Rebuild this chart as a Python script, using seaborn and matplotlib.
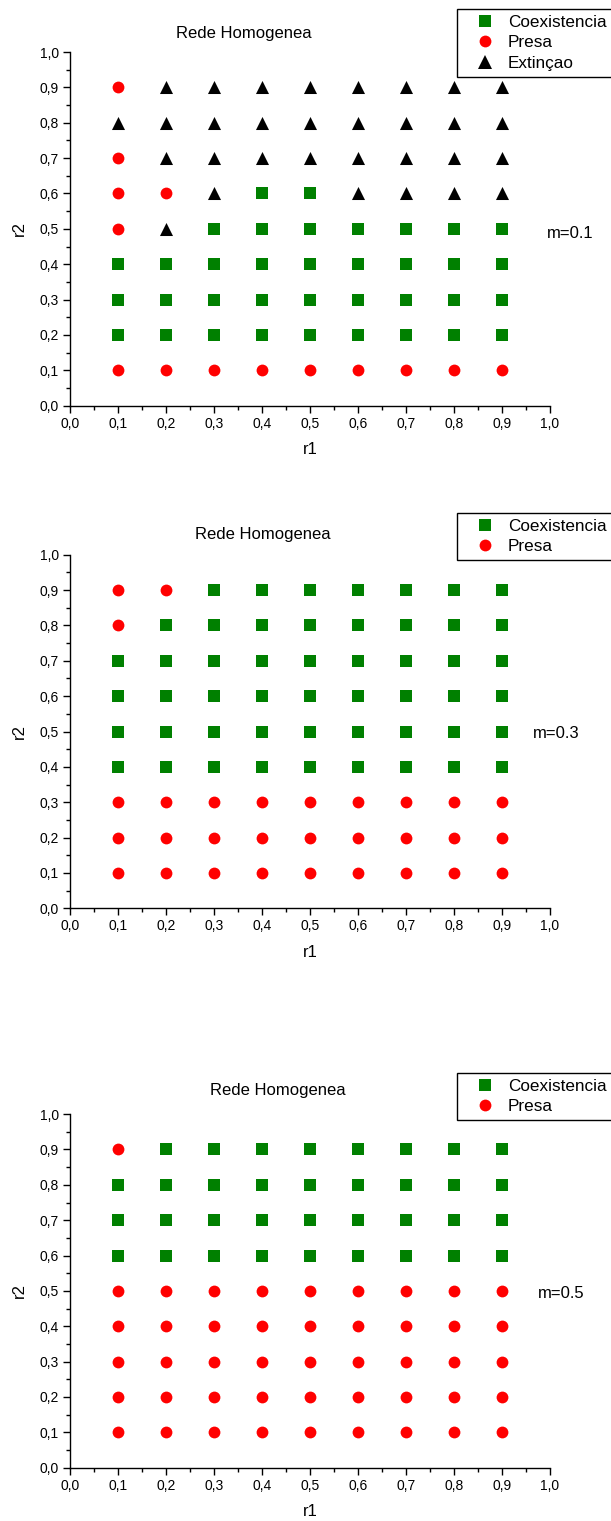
import numpy as np
import pandas as pd
import matplotlib
matplotlib.use("Agg")
import matplotlib.pyplot as plt
from matplotlib.lines import Line2D
from matplotlib.ticker import MultipleLocator, FuncFormatter
import seaborn as sns

sns.set_style("ticks")
plt.rcParams['font.family'] = ['Liberation Sans', 'DejaVu Sans']
plt.rcParams['text.color'] = 'black'
plt.rcParams['axes.labelcolor'] = 'black'

# grid of parameters
r1 = [0.1, 0.2, 0.3, 0.4, 0.5, 0.6, 0.7, 0.8, 0.9]
r2 = [0.9, 0.8, 0.7, 0.6, 0.5, 0.4, 0.3, 0.2, 0.1]   # rows, top to bottom

# C = Coexistencia, P = Presa, E = Extinçao
# one string per r2 row, r1 from left to right
m01 = ["PEEEEEEEE",
       "EEEEEEEEE",
       "PEEEEEEEE",
       "PPECCEEEE",
       "PECCCCCCC",
       "CCCCCCCCC",
       "CCCCCCCCC",
       "CCCCCCCCC",
       "PPPPPPPPP"]

m03 = ["PPCCCCCCC",
       "PCCCCCCCC",
       "CCCCCCCCC",
       "CCCCCCCCC",
       "CCCCCCCCC",
       "CCCCCCCCC",
       "PPPPPPPPP",
       "PPPPPPPPP",
       "PPPPPPPPP"]

m05 = ["PCCCCCCCC",
       "CCCCCCCCC",
       "CCCCCCCCC",
       "CCCCCCCCC",
       "PPPPPPPPP",
       "PPPPPPPPP",
       "PPPPPPPPP",
       "PPPPPPPPP",
       "PPPPPPPPP"]

m_labels = ["m=0.1", "m=0.3", "m=0.5"]
names = {"C": "Coexistencia", "P": "Presa", "E": "Extinçao"}
order = ["Coexistencia", "Presa", "Extinçao"]

colors = {"Coexistencia": "#008000", "Presa": "#ff0000", "Extinçao": "#000000"}
markers = {"Coexistencia": "s", "Presa": "o", "Extinçao": "^"}
msize = {"Coexistencia": 8.2, "Presa": 8.5, "Extinçao": 9.4}

W, H = 611, 1521
fig = plt.figure(figsize=(W / 100, H / 100), dpi=100)

# pixel layout: (axis top, axis bottom, title x, title y, legend top, m label x, m label y)
layout = [
    (52.0, 405.7, 243.5, 33.5, 9.3, 0.994, 0.487),
    (554.7, 908.3, 262.5, 535.0, 512.7, 0.965, 0.495),
    (1114.1, 1467.7, 278.0, 1091.0, 1072.7, 0.975, 0.494),
]

comma = FuncFormatter(lambda v, p: f"{v:.1f}".replace(".", ","))

for grid, mlab, (ytop, ybot, tx, ty, ltop, mx, my) in zip([m01, m03, m05], m_labels, layout):
    rows = []
    for j, line in enumerate(grid):
        for i, c in enumerate(line):
            rows.append({"r1": r1[i], "r2": r2[j], "estado": names[c]})
    df = pd.DataFrame(rows)

    ax = fig.add_axes([70 / W, 1 - ybot / H, 480 / W, (ybot - ytop) / H])
    present = [o for o in order if o in set(df.estado)]
    for est in present:
        sub = df[df.estado == est]
        sns.scatterplot(data=sub, x="r1", y="r2", marker=markers[est],
                        color=colors[est], s=msize[est] ** 2, linewidth=0,
                        ax=ax, legend=False, zorder=3)

    ax.set_xlim(0, 1)
    ax.set_ylim(0, 1)
    ax.xaxis.set_major_locator(MultipleLocator(0.1))
    ax.yaxis.set_major_locator(MultipleLocator(0.1))
    ax.xaxis.set_minor_locator(MultipleLocator(0.05))
    ax.yaxis.set_minor_locator(MultipleLocator(0.05))
    ax.xaxis.set_major_formatter(comma)
    ax.yaxis.set_major_formatter(comma)
    ax.tick_params(which="major", length=5, width=1, labelsize=10, colors="black", pad=3)
    ax.tick_params(which="minor", length=3, width=1, colors="black")
    sns.despine(ax=ax)
    for s in ["left", "bottom"]:
        ax.spines[s].set_color("black")
        ax.spines[s].set_linewidth(1.0)
    ax.set_xlabel("r1", fontsize=12, color="black", labelpad=8)
    ax.set_ylabel("r2", fontsize=12, color="black", labelpad=9)
    ax.text(mx, my, mlab, transform=ax.transAxes, fontsize=12, ha="left", va="center",
            color="black", clip_on=False)

    fig.text(tx / W, 1 - ty / H, "Rede Homogenea", fontsize=12, ha="center", va="center",
             color="black")

    handles = [Line2D([], [], linestyle="none", marker=markers[e], color=colors[e],
                      markersize=msize[e], markeredgewidth=0) for e in present]
    leg = fig.legend(handles, present, loc="upper left",
                     bbox_to_anchor=(456.7 / W, 1 - ltop / H), borderaxespad=0,
                     fontsize=12.3, frameon=True, fancybox=False, framealpha=1,
                     edgecolor="black", borderpad=0.35, labelspacing=0.3,
                     handlelength=2.6, handletextpad=0.05)
    leg.get_frame().set_linewidth(1.0)

fig.savefig("out.png", dpi=100)
